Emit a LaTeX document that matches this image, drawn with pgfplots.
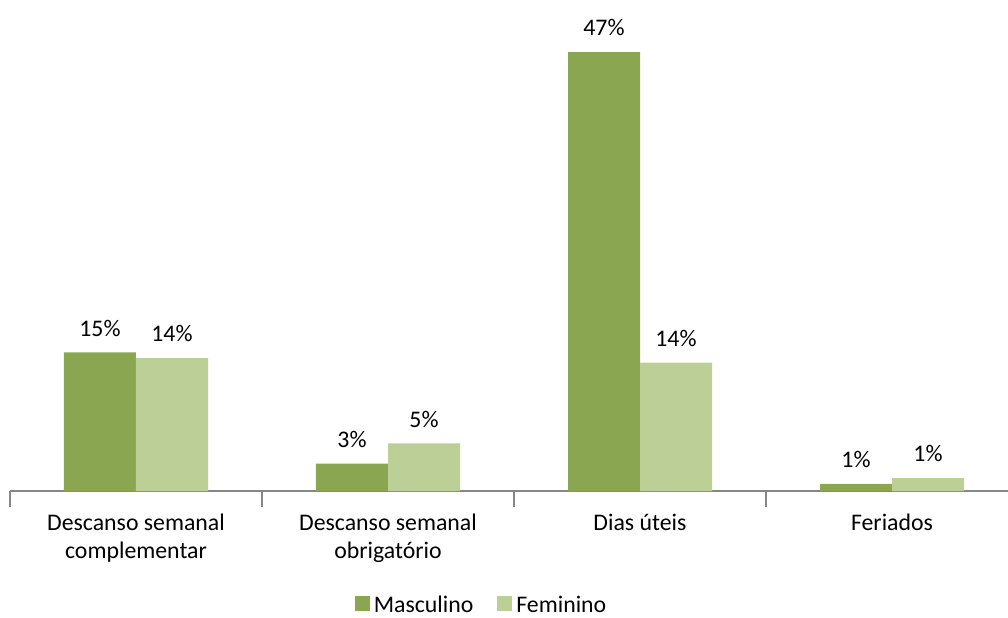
\documentclass[border=0pt]{standalone}
\usepackage{fontspec}
\setmainfont{Carlito}
\usepackage{pgfplots}
\pgfplotsset{compat=1.18}

\definecolor{masc}{HTML}{8AA650}
\definecolor{fem}{HTML}{BBCF97}
\definecolor{axisgray}{HTML}{868686}

\newcommand{\chartfont}{\fontsize{11.9pt}{14pt}\selectfont}

\begin{document}
\begin{tikzpicture}
\begin{axis}[
    at={(0pt,0pt)}, anchor=south west,
    scale only axis,
    width=504pt, height=235.5pt,
    ybar=0pt,
    bar width=36pt,
    xmin=-0.5, xmax=3.5,
    ymin=0, ymax=50.43,
    axis y line=none,
    axis x line*=bottom,
    x axis line style={axisgray, line width=0.8pt, -},
    xtick={0,1,2,3},
    xticklabels={{Descanso semanal\\complementar},{Descanso semanal\\obrigatório},{Dias úteis},{Feriados}},
    major tick length=0pt,
    xticklabel style={align=center, font=\chartfont, yshift=-8pt},
    extra x ticks={-0.5,0.5,1.5,2.5,3.5},
    extra x tick labels={},
    extra x tick style={major tick length=8pt, tick align=outside,
        tick style={axisgray, line width=0.8pt}},
    /pgf/number format/assume math mode=true,
    nodes near coords={\pgfmathprintnumber[fixed,precision=0]{\pgfplotspointmeta}\%},
    every node near coord/.append style={font=\chartfont, yshift=4.5pt},
    legend columns=-1,
    legend style={at={(0.4688,-0.2430)}, anchor=center, draw=none, fill=none,
        font=\chartfont,
        /tikz/every even column/.append style={column sep=10pt}},
    legend image code/.code={\fill[#1] (0pt,-3pt) rectangle (7.5pt,4.5pt);},
    clip=false,
]
\addplot[fill=masc, draw=none] coordinates {(0,14.84) (1,2.92) (2,47.0) (3,0.75)};
\addlegendentry{Masculino}
\addplot[fill=fem, draw=none] coordinates {(0,14.24) (1,5.10) (2,13.74) (3,1.39)};
\addlegendentry{Feminino}
\end{axis}
\pgfresetboundingbox
\path[use as bounding box] (-5pt,-63pt) rectangle (499pt,245.5pt);
\end{tikzpicture}
\end{document}
